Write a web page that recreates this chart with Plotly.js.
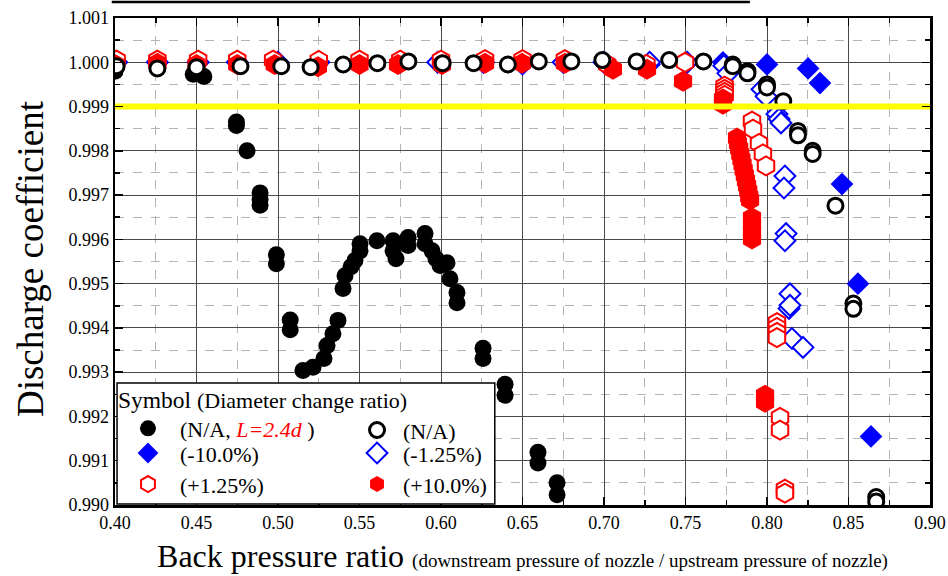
<!DOCTYPE html>
<html><head><meta charset="utf-8">
<script src="https://cdn.plot.ly/plotly-3.0.1.min.js"></script>
<style>html,body{margin:0;padding:0;background:#fff}#chart{width:948px;height:576px}</style>
</head><body><div id="chart"></div>
<script>
// ---- data ----
const naL24X = [0.400,0.400,0.448,0.4545,0.4745,0.4745,0.481,0.489,0.489,0.489,0.499,0.499,0.5075,0.5075,0.5153,0.5215,0.5282,0.5301,0.5337,0.5368,0.5399,0.5411,0.5448,0.5472,0.5503,0.5503,0.5607,0.5706,0.5706,0.5724,0.5798,0.5798,0.5902,0.5902,0.5945,0.5969,0.5994,0.6037,0.6055,0.6098,0.6098,0.6258,0.6258,0.6393,0.6393,0.6595,0.6595,0.6712,0.6712];
const naL24Y = [0.99990,0.99980,0.99973,0.99968,0.99865,0.99857,0.99800,0.99705,0.99690,0.99677,0.99565,0.99545,0.99418,0.99396,0.99304,0.99311,0.99331,0.99360,0.99387,0.99417,0.99489,0.99518,0.99538,0.99552,0.99590,0.99574,0.99597,0.99574,0.99597,0.99556,0.99604,0.99586,0.99613,0.99590,0.99574,0.99556,0.99541,0.99547,0.99511,0.99480,0.99457,0.99354,0.99331,0.99273,0.99248,0.99119,0.99095,0.99050,0.99023];

const naX = [0.401,0.426,0.450,0.477,0.502,0.520,0.540,0.561,0.580,0.601,0.620,0.641,0.660,0.680,0.699,0.720,0.740,0.761,0.779,0.779,0.788,0.788,0.800,0.800,0.810,0.819,0.819,0.828,0.828,0.842,0.853,0.853,0.867,0.867];
const naY = [0.99991,0.99986,0.99989,0.99991,0.99991,0.99989,0.99995,0.99998,1.00002,0.99998,0.99998,0.99995,1.00002,1.00002,1.00005,1.00002,1.00005,1.00002,0.99995,0.99991,0.99980,0.99975,0.99950,0.99943,0.99912,0.99845,0.99835,0.99800,0.99793,0.99676,0.99455,0.99443,0.99018,0.99008];

const minus10X = [0.401,0.426,0.451,0.475,0.500,0.525,0.550,0.575,0.598,0.626,0.650,0.675,0.700,0.728,0.751,0.773,0.800,0.8252,0.8325,0.846,0.8558,0.8638];
const minus10Y = [1.00000,1.00000,1.00000,1.00000,1.00000,1.00000,1.00000,1.00000,1.00000,1.00000,0.99995,1.00000,1.00000,0.99995,1.00000,1.00000,0.99995,0.99986,0.99953,0.99725,0.99500,0.99155];

const minus125X = [0.401,0.426,0.451,0.475,0.500,0.525,0.550,0.575,0.598,0.626,0.650,0.675,0.700,0.728,0.751,0.7735,0.776,0.7969,0.7994,0.8061,0.8074,0.8086,0.811,0.8104,0.8117,0.811,0.8141,0.8135,0.8141,0.8153,0.8221];
const minus125Y = [1.00000,1.00000,1.00000,1.00000,1.00000,1.00000,1.00000,1.00000,1.00000,1.00000,1.00000,1.00000,1.00000,1.00000,1.00000,0.99992,0.99975,0.99939,0.99923,0.99883,0.99872,0.99863,0.99743,0.99716,0.99613,0.99597,0.99477,0.99444,0.99451,0.99376,0.99356];

const plus125X = [0.401,0.426,0.451,0.475,0.497,0.525,0.550,0.575,0.600,0.627,0.650,0.676,0.702,0.726,0.7497,0.774,0.774,0.774,0.774,0.7908,0.7914,0.7951,0.7975,0.7994,0.8061,0.8061,0.8061,0.8061,0.808,0.808,0.811,0.811];
const plus125Y = [1.00005,1.00005,1.00005,1.00005,1.00005,1.00004,1.00005,1.00005,1.00005,1.00006,1.00006,1.00006,0.99995,0.99995,1.00000,0.99946,0.99939,0.99932,0.99925,0.99867,0.99849,0.99817,0.99793,0.99766,0.99412,0.99401,0.99390,0.99378,0.99198,0.99169,0.99036,0.99027];

const plus10X = [0.400,0.426,0.450,0.475,0.498,0.5245,0.550,0.5736,0.6006,0.627,0.6497,0.676,0.7055,0.7264,0.7485,0.773,0.773,0.7816,0.7822,0.7829,0.7836,0.7843,0.7850,0.7857,0.7864,0.7871,0.7878,0.7885,0.7891,0.7896,0.7908,0.7908,0.7908,0.7908,0.7988,0.7988];
const plus10Y = [0.99995,0.99998,0.99995,0.99995,0.99995,0.99990,0.99995,0.99995,0.99995,0.99998,0.99998,0.99998,0.99984,0.99984,0.99957,0.99917,0.99905,0.99829,0.99817,0.99805,0.99793,0.99781,0.99769,0.99757,0.99745,0.99733,0.99721,0.99709,0.99697,0.99689,0.99649,0.99633,0.99617,0.99601,0.99248,0.99232];

const limitX = [0.40, 0.90];
const limitY = [0.999, 0.999];

const xTickVals = [0.40,0.45,0.50,0.55,0.60,0.65,0.70,0.75,0.80,0.85,0.90];
const yTickVals = [0.990,0.991,0.992,0.993,0.994,0.995,0.996,0.997,0.998,0.999,1.000,1.001];

// ---- traces ----
const FONT = 'Liberation Serif, Times New Roman, serif';
const traces = [
  {x: minus10X, y: minus10Y, type:'scatter', mode:'markers', name:'(-10.0%)', legend:'legend3',
   marker:{symbol:'diamond', size:17.5, color:'#0000ff', line:{width:0}}},
  {x: minus125X, y: minus125Y, type:'scatter', mode:'markers', name:'(-1.25%)', legend:'legend4',
   marker:{symbol:'diamond', size:16, color:'#ffffff', line:{width:2, color:'#0000ff'}}},
  {x: plus125X, y: plus125Y, type:'scatter', mode:'markers', name:'(+1.25%)', legend:'legend5',
   marker:{symbol:'hexagon', size:19, color:'#ffffff', line:{width:2, color:'#ff0000'}}},
  {x: plus10X, y: plus10Y, type:'scatter', mode:'markers', name:'(+10.0%)', legend:'legend6',
   marker:{symbol:'hexagon', size:21, color:'#ff0000', line:{width:0}}},
  {x: naL24X, y: naL24Y, type:'scatter', mode:'markers', name:'(N/A, <span style="color:#ff0000"><i>L=2.4d</i></span> )', legend:'legend',
   marker:{symbol:'circle', size:17, color:'#000000', line:{width:0}}},
  {x: naX, y: naY, type:'scatter', mode:'markers', name:'(N/A)', legend:'legend2',
   marker:{symbol:'circle', size:15, color:'#ffffff', line:{width:3, color:'#000000'}}},
  {x: limitX, y: limitY, type:'scatter', mode:'lines', showlegend:false, hoverinfo:'skip',
   line:{color:'#ffff00', width:6}}
];

const axisCommon = {
  showline:true, linecolor:'#000', linewidth:2.5, mirror:'allticks',
  ticks:'inside', ticklen:8, tickwidth:1.5, tickcolor:'#000',
  showgrid:true, gridcolor:'#4a4a4a', gridwidth:1, zeroline:false,
  tickfont:{family:FONT, size:18, color:'#000'}
};

const legFont = {family:FONT, size:22, color:'#000'};
function leg(x, y, iw, extra) {
  return Object.assign({x:x, xanchor:'left', y:y, yanchor:'top', bgcolor:'rgba(0,0,0,0)', borderwidth:0,
    font:legFont, itemwidth:iw, tracegroupgap:0, traceorder:'normal'}, extra || {});
}
const COL1 = 0.0012, COL2 = 0.2896;

const layout = {
  width:948, height:576,
  margin:{l:115, r:18, t:18, b:71},
  paper_bgcolor:'#fff', plot_bgcolor:'#fff',
  font:{family:FONT, color:'#000'},
  showlegend:true,
  xaxis: Object.assign({}, axisCommon, {
    range:[0.40,0.90], tickvals:xTickVals, tickformat:'.2f',
    minor:{dtick:0.025, tick0:0.40, ticks:'inside', ticklen:5, tickwidth:1.5, tickcolor:'#000', showgrid:true, gridcolor:'#b5b5b5', griddash:'dash', gridwidth:1},
    title:{text:'Back pressure ratio <span style="font-size:19px">(downstream pressure of nozzle / upstream pressure of nozzle)</span>', font:{family:FONT, size:32, color:'#000'}, standoff:13}
  }),
  yaxis: Object.assign({}, axisCommon, {
    range:[0.990,1.001], tickvals:yTickVals, tickformat:'.3f',
    minor:{dtick:0.0005, tick0:0.990, ticks:'inside', ticklen:5, tickwidth:1.5, tickcolor:'#000', showgrid:true, gridcolor:'#b5b5b5', griddash:'dash', gridwidth:1}
  }),
  annotations:[
    {text:'Discharge coefficient', xref:'paper', yref:'paper', x:-0.1043, y:0.507, xanchor:'center', yanchor:'middle',
     textangle:-90, showarrow:false, font:{family:FONT, size:37, color:'#000'}}
  ],
  legend: leg(COL1, 0.2628, 54, {title:{text:'Symbol <span style="font-size:22px">(Diameter change ratio)</span>', font:{family:FONT, size:23.5, color:'#000'}}}),
  legend2: leg(COL2, 0.1967, 42),
  legend3: leg(COL1, 0.1495, 54),
  legend4: leg(COL2, 0.1495, 42),
  legend5: leg(COL1, 0.0858, 54),
  legend6: leg(COL2, 0.0858, 42),
  shapes:[
    {type:'rect', xref:'paper', yref:'paper', x0:0.0025, x1:0.466, y0:0.002, y1:0.2505, layer:'above',
     fillcolor:'#ffffff', line:{color:'#000', width:1.5}},
    {type:'line', xref:'paper', yref:'paper', x0:-0.004, x1:0.779, y0:1.033, y1:1.033, layer:'above',
     line:{color:'#000', width:2.5}}
  ]
};

Plotly.newPlot('chart', traces, layout, {displayModeBar:false, staticPlot:true});
</script>
</body></html>
